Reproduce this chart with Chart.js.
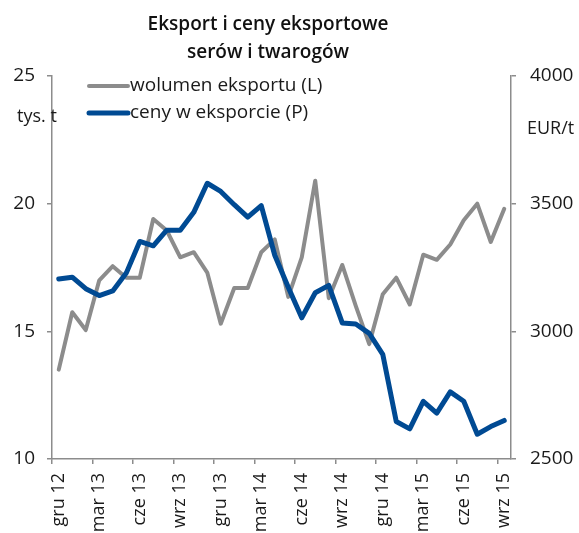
<!DOCTYPE html>
<html>
<head>
<meta charset="utf-8">
<script src="https://cdn.jsdelivr.net/npm/chart.js@4.4.1/dist/chart.umd.min.js"></script>
<style>
  html, body { margin: 0; padding: 0; background: #ffffff; }
  #wrap { width: 579px; height: 533px; position: relative; }
</style>
</head>
<body>
<div id="wrap"><canvas id="c" width="579" height="533"></canvas></div>
<script>
const months = ["gru 12","sty 13","lut 13","mar 13","kwi 13","maj 13","cze 13","lip 13","sie 13","wrz 13","paź 13","lis 13",
  "gru 13","sty 14","lut 14","mar 14","kwi 14","maj 14","cze 14","lip 14","sie 14","wrz 14","paź 14","lis 14",
  "gru 14","sty 15","lut 15","mar 15","kwi 15","maj 15","cze 15","lip 15","sie 15","wrz 15"];
const volume = [13.5,15.75,15.05,17.0,17.55,17.1,17.1,19.4,18.95,17.9,18.1,17.3,
  15.3,16.7,16.7,18.1,18.6,16.35,17.9,20.9,16.3,17.6,16.0,14.5,
  16.45,17.1,16.05,18.0,17.8,18.4,19.35,20.0,18.5,19.8];
const prices = [3205,3212,3167,3140,3158,3228,3352,3335,3396,3396,3466,3580,
  3548,3496,3447,3492,3298,3173,3053,3151,3180,3033,3029,2992,
  2910,2647,2618,2726,2680,2763,2726,2597,2627,2651];
const leftTicks = [10, 25, 5];
const rightTicks = [2500, 4000, 500];
const titleLines = ["Eksport i ceny eksportowe", "serów i twarogów"];
const seriesNames = ["wolumen eksportu (L)", "ceny w eksporcie (P)"];
const unitLeft = "tys. t";
const unitRight = "EUR/t";

const GRAY = "#8c8c8c";
const BLUE = "#004a93";
const AXIS = "#8c8c8c";
const FONT = "'Open Sans', 'DejaVu Sans', sans-serif";

const overlay = {
  id: "overlay",
  afterDraw(chart) {
    const ctx = chart.ctx;
    ctx.save();
    ctx.fillStyle = "#111";
    ctx.textAlign = "center";
    ctx.textBaseline = "middle";
    ctx.font = "600 19px " + FONT;
    ctx.fillText(titleLines[0], 268, 25);
    ctx.fillText(titleLines[1], 268, 53);
    // legend
    ctx.lineCap = "round";
    ctx.strokeStyle = GRAY; ctx.lineWidth = 4;
    ctx.beginPath(); ctx.moveTo(89, 86); ctx.lineTo(128, 86); ctx.stroke();
    ctx.strokeStyle = BLUE; ctx.lineWidth = 5;
    ctx.beginPath(); ctx.moveTo(89, 113); ctx.lineTo(128, 113); ctx.stroke();
    ctx.font = "19px " + FONT;
    ctx.textAlign = "left";
    ctx.fillStyle = "#1a1a1a";
    ctx.fillText(seriesNames[0], 130, 86);
    ctx.fillText(seriesNames[1], 130, 113);
    // units
    ctx.font = "18px " + FONT;
    ctx.fillText(unitLeft, 17, 117);
    ctx.fillText(unitRight, 527, 129);
    ctx.restore();
  }
};

new Chart(document.getElementById("c"), {
  type: "line",
  data: {
    labels: months,
    datasets: [
      { label: seriesNames[0], data: volume, yAxisID: "y", borderColor: GRAY, borderWidth: 4,
        pointRadius: 0, tension: 0, borderJoinStyle: "round", borderCapStyle: "round", order: 2 },
      { label: seriesNames[1], data: prices, yAxisID: "y1", borderColor: BLUE, borderWidth: 5,
        pointRadius: 0, tension: 0, borderJoinStyle: "round", borderCapStyle: "round", order: 1 }
    ]
  },
  options: {
    responsive: false,
    devicePixelRatio: 1,
    animation: false,
    layout: { padding: { top: 76, left: 0, right: 0, bottom: 0 } },
    plugins: { legend: { display: false }, title: { display: false }, tooltip: { enabled: false } },
    scales: {
      x: {
        type: "category",
        offset: true,
        afterFit(s) { s.height = 74; },
        border: { display: true, color: AXIS, width: 1.5 },
        grid: {
          offset: true, drawOnChartArea: false, tickLength: 5, lineWidth: 1.5,
          color: (c) => (c.index !== undefined && c.index % 3 === 0) ? AXIS : "rgba(0,0,0,0)",
          tickColor: (c) => (c.index !== undefined && c.index % 3 === 0) ? AXIS : "rgba(0,0,0,0)"
        },
        ticks: {
          autoSkip: false, maxRotation: 90, minRotation: 90, padding: 9,
          color: "#1a1a1a", font: { family: FONT, size: 18 },
          callback: (v, i) => (i % 3 === 0 ? months[i] : "")
        }
      },
      y: {
        position: "left",
        min: leftTicks[0], max: leftTicks[1],
        afterFit(s) { s.width = 52; },
        border: { display: true, color: AXIS, width: 1.5 },
        grid: { drawOnChartArea: false, tickLength: 5, color: AXIS, lineWidth: 1.5 },
        ticks: { stepSize: leftTicks[2], padding: 12, color: "#1a1a1a", font: { family: FONT, size: 19 },
          callback: (v) => String(v) }
      },
      y1: {
        position: "right",
        min: rightTicks[0], max: rightTicks[1],
        afterFit(s) { s.width = 68; },
        border: { display: true, color: AXIS, width: 1.5 },
        grid: { drawOnChartArea: false, tickLength: 5, color: AXIS, lineWidth: 1.5 },
        ticks: { stepSize: rightTicks[2], padding: 14, color: "#1a1a1a", font: { family: FONT, size: 19 },
          callback: (v) => String(v) }
      }
    }
  },
  plugins: [overlay]
});
</script>
</body>
</html>
